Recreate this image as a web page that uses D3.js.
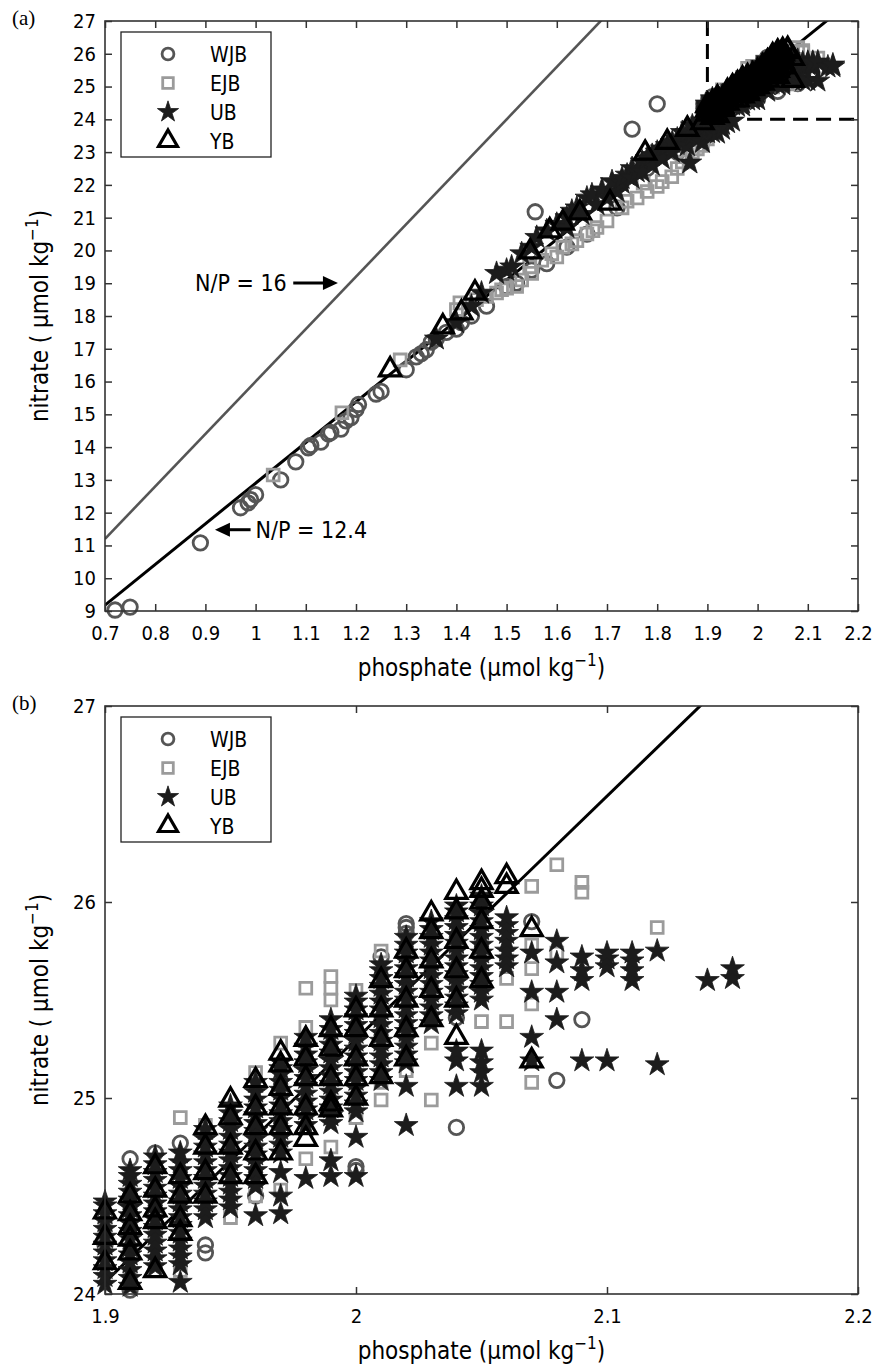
<!DOCTYPE html>
<html>
<head>
<meta charset="utf-8">
<script src="https://cdn.jsdelivr.net/npm/d3@7"></script>
<style>
body{margin:0;background:#fff;}
svg text{font-family:'Liberation Sans Narrow','DejaVu Sans Condensed','Open Sans',sans-serif;fill:#000;}
</style>
</head>
<body>
<svg id="fig" width="873" height="1367"></svg>
<script>
// series in plot order
const seriesNames=["WJB","EJB","UB","YB"];

// scattered points [phosphate, nitrate]
const wjbLow=[[0.72,9.03],[0.75,9.12],[0.89,11.08],[0.97,12.15],[0.985,12.3],[0.99,12.4],[1.0,12.55],[1.05,13.0],[1.08,13.55],
  [1.105,13.98],[1.11,14.05],[1.13,14.15],[1.145,14.4],[1.15,14.45],[1.17,14.55],[1.18,14.8],[1.19,14.9],[1.2,15.15],[1.205,15.3],
  [1.24,15.62],[1.25,15.7],[1.3,16.36],[1.32,16.75],[1.33,16.85],[1.34,16.97],[1.35,17.2],[1.36,17.3],[1.38,17.5],[1.4,17.6],
  [1.41,17.8],[1.43,18.0],[1.46,18.3],[1.5,18.9],[1.52,19.0],[1.55,19.4],[1.557,21.18],[1.58,19.6],[1.62,20.1],[1.66,20.5],
  [1.72,21.3],[1.75,23.7],[1.78,22.5],[1.8,24.47],[1.84,23.0],[1.86,23.5]];
const ejbLow=[[1.035,13.15],[1.172,15.05],[1.288,16.66],[1.4,18.2],[1.407,18.4],[1.44,18.5],[1.46,18.6],[1.48,18.7],[1.49,18.8],
  [1.5,18.85],[1.52,18.9],[1.53,19.1],[1.546,19.5],[1.55,19.3],[1.57,19.7],[1.59,19.9],[1.6,19.8],[1.612,20.1],[1.63,20.2],
  [1.64,20.3],[1.66,20.5],[1.672,20.6],[1.68,20.7],[1.7,20.9],[1.73,21.3],[1.74,21.5],[1.76,21.6],[1.772,22.05],[1.78,21.8],
  [1.8,21.95],[1.81,22.1],[1.829,22.25],[1.84,22.5],[1.85,22.7],[1.86,22.9],[1.87,23.0],[1.88,23.1],[1.89,23.2],[1.9,23.4],[1.9,23.6]];
const ubLow=[[1.36,17.3],[1.4,17.8],[1.43,18.3],[1.45,18.7],[1.48,19.3],[1.5,19.4],[1.51,19.5],[1.53,19.9],[1.55,20.1],[1.56,20.4],
  [1.58,20.6],[1.6,20.8],[1.62,21.0],[1.62,20.7],[1.63,21.2],[1.64,21.3],[1.65,21.1],[1.66,21.6],[1.67,21.7],[1.68,21.4],
  [1.69,21.85],[1.7,21.6],[1.71,22.1],[1.72,21.8],[1.73,22.05],[1.73,22.2],[1.74,22.3],[1.75,22.5],[1.75,22.2],[1.76,22.4],
  [1.77,22.7],[1.77,22.4],[1.78,22.8],[1.79,22.6],[1.79,22.9],[1.8,23.0],[1.81,23.1],[1.81,22.8],[1.82,23.2],[1.83,23.0],
  [1.83,23.3],[1.84,23.4],[1.85,23.3],[1.85,23.6],[1.86,23.6],[1.86,23.2],[1.865,22.67],[1.87,23.5],[1.87,23.8],[1.88,23.8],
  [1.88,23.4],[1.88,23.6],[1.89,23.7],[1.89,23.3],[1.89,23.95],[1.9,23.6],[1.9,23.85],[1.91,23.8],[1.91,23.6],[1.92,23.58],
  [1.92,23.9],[1.93,23.85],[1.93,23.7],[1.94,23.9],[1.95,23.95]];
const ybLow=[[1.268,16.36],[1.373,17.67],[1.41,18.1],[1.437,18.7],[1.547,19.96],[1.586,20.6],[1.612,20.84],[1.646,21.15],
  [1.706,21.45],[1.776,22.97],[1.82,23.3],[1.86,23.7],[1.89,23.9]];

// columns at 0.01 phosphate steps: [phosphate, nitrate...]
const wjbCols=[[1.90,24.25],[1.91,24.02,24.69],[1.92,24.72],[1.93,24.77],[1.94,24.21,24.25],[1.96,24.5],[2.00,24.63,24.65],
  [2.01,25.72],[2.02,25.84,25.87,25.89],[2.04,24.85,25.41],[2.07,25.9],[2.08,25.09],[2.09,25.4]];
const ejbCols=[[1.90,24.25,24.35],[1.91,24.1,24.45],[1.92,24.3],[1.93,24.12,24.9],[1.94,24.86],[1.95,24.39],[1.96,24.5,25.13],
  [1.97,24.53,25.28],[1.98,24.69,25.36,25.56],[1.99,24.75,25.5,25.56,25.62],[2.00,24.9,25.55],[2.01,24.99,25.08,25.75],
  [2.02,25.14,25.3],[2.03,24.99,25.28],[2.04,25.6,25.75],[2.05,25.39,25.8],[2.06,25.39,25.61,25.7],
  [2.07,25.08,25.48,25.66,25.78,26.08],[2.08,25.74,26.19],[2.09,26.05,26.1],[2.12,25.87]];
const ubCols=[
  [1.90,24.05,24.09,24.13,24.17,24.21,24.25,24.29,24.33,24.37,24.41,24.45,24.47],
  [1.91,24.04,24.08,24.12,24.16,24.2,24.24,24.28,24.32,24.36,24.4,24.44,24.48,24.52,24.56,24.6,24.63],
  [1.92,24.14,24.18,24.22,24.26,24.3,24.34,24.38,24.42,24.46,24.5,24.54,24.58,24.62,24.66,24.7],
  [1.93,24.06,24.15,24.19,24.23,24.27,24.31,24.35,24.39,24.43,24.47,24.51,24.55,24.59,24.63,24.67,24.72],
  [1.94,24.39,24.43,24.47,24.51,24.55,24.59,24.63,24.67,24.71,24.75,24.79,24.84],
  [1.95,24.44,24.48,24.52,24.56,24.6,24.64,24.68,24.72,24.76,24.8,24.84,24.88,24.92,24.96],
  [1.96,24.4,24.55,24.59,24.63,24.67,24.71,24.75,24.79,24.83,24.87,24.91,24.95,24.99,25.03,25.08],
  [1.97,24.41,24.5,24.62,24.72,24.76,24.8,24.84,24.88,24.92,24.96,25.0,25.04,25.08,25.12,25.15,25.18],
  [1.98,24.59,24.86,24.9,24.94,24.98,25.02,25.06,25.1,25.14,25.18,25.22,25.26,25.31],
  [1.99,24.6,24.68,24.87,24.91,24.95,24.99,25.03,25.07,25.11,25.15,25.19,25.23,25.27,25.31,25.35,25.4],
  [2.00,24.6,24.8,24.93,24.97,25.01,25.05,25.09,25.13,25.17,25.21,25.25,25.29,25.33,25.37,25.41,25.45,25.49,25.52],
  [2.01,25.09,25.13,25.17,25.21,25.25,25.29,25.33,25.37,25.41,25.45,25.49,25.53,25.57,25.61,25.65,25.68],
  [2.02,24.86,25.06,25.18,25.22,25.26,25.3,25.34,25.38,25.42,25.46,25.5,25.54,25.58,25.62,25.66,25.7,25.74,25.78,25.82],
  [2.03,25.38,25.42,25.46,25.5,25.54,25.58,25.62,25.66,25.7,25.74,25.78,25.82,25.86,25.9],
  [2.04,25.06,25.19,25.24,25.43,25.47,25.51,25.55,25.59,25.63,25.67,25.71,25.75,25.79,25.83,25.87,25.91,25.95,25.98],
  [2.05,25.06,25.13,25.18,25.24,25.5,25.54,25.58,25.62,25.66,25.7,25.74,25.78,25.82,25.86,25.9,25.94,25.98,26.03],
  [2.06,25.67,25.71,25.75,25.8,25.84,25.88,25.92],
  [2.07,25.19,25.31,25.54,25.74],
  [2.08,25.4,25.54,25.69,25.8],
  [2.09,25.19,25.6,25.65,25.72],
  [2.10,25.19,25.67,25.71,25.74],
  [2.11,25.6,25.65,25.7,25.74],
  [2.12,25.17,25.75],
  [2.14,25.6],
  [2.15,25.61,25.66]];
const ybCols=[[1.90,24.16,24.29,24.42],[1.91,24.06,24.21,24.28,24.34,24.41,24.5],[1.92,24.12,24.37,24.43,24.53,24.65],
  [1.93,24.31,24.38,24.5,24.6],[1.94,24.5,24.62,24.75,24.85],[1.95,24.6,24.75,24.9,24.99],[1.96,24.6,24.72,24.85,24.95,25.09],
  [1.97,24.72,24.85,24.95,25.05,25.17,25.23],[1.98,24.79,24.85,24.95,25.1,25.2,25.3],[1.99,24.94,24.97,25.1,25.25,25.35],
  [2.00,25.0,25.1,25.2,25.35,25.45],[2.01,25.11,25.3,25.45,25.6],[2.02,25.2,25.35,25.5,25.65,25.75],
  [2.03,25.4,25.55,25.7,25.85,25.94],[2.04,25.31,25.5,25.65,25.8,25.95,26.05],[2.05,25.6,25.75,25.9,26.0,26.06,26.1],
  [2.06,26.08,26.13],[2.07,25.19,25.86]];

// axis ticks
const xTicksA=[0.7,0.8,0.9,1,1.1,1.2,1.3,1.4,1.5,1.6,1.7,1.8,1.9,2,2.1,2.2];
const xLabelsA=["0.7","0.8","0.9","1","1.1","1.2","1.3","1.4","1.5","1.6","1.7","1.8","1.9","2","2.1","2.2"];
const yTicksA=[9,10,11,12,13,14,15,16,17,18,19,20,21,22,23,24,25,26,27];
const xTicksB=[1.9,2,2.1,2.2];
const xLabelsB=["1.9","2","2.1","2.2"];
const yTicksB=[24,25,26,27];

// reference lines N = slope*P + icpt
const refLines=[{label:"N/P = 16",slope:16,icpt:0,color:"#555",width:2.6},
                {label:"N/P = 12.4",slope:12.4,icpt:0.5,color:"#000",width:3}];
const zoomBox=[1.9,2.2,24,27];

const svg=d3.select("#fig");

function flatten(low,cols){
  let out=low.map(d=>({p:d[0],n:d[1]}));
  cols.forEach(c=>{c.slice(1).forEach(n=>out.push({p:c[0],n:n}))});
  return out;
}
const seriesData={
  WJB:flatten(wjbLow,wjbCols),
  EJB:flatten(ejbLow,ejbCols),
  UB:flatten(ubLow,ubCols),
  YB:flatten(ybLow,ybCols)
};
const styles={
  WJB:{type:d3.symbolCircle,size:165,fill:"none",stroke:"#555",sw:2.8},
  EJB:{type:d3.symbolSquare,size:140,fill:"none",stroke:"#9b9b9b",sw:2.8},
  UB:{type:d3.symbolStar,size:175,fill:"#1c1c1c",stroke:"#1c1c1c",sw:0.8},
  YB:{type:d3.symbolTriangle,size:195,fill:"none",stroke:"#000",sw:3.2}
};

function drawPanel(cfg){
  const x=d3.scaleLinear().domain(cfg.xDom).range([cfg.left,cfg.right]);
  const y=d3.scaleLinear().domain(cfg.yDom).range([cfg.bottom,cfg.top]);
  const g=svg.append("g");

  g.append("clipPath").attr("id","clip"+cfg.id)
    .append("rect").attr("x",cfg.left).attr("y",cfg.top)
    .attr("width",cfg.right-cfg.left).attr("height",cfg.bottom-cfg.top);

  if(cfg.showZoomBox){
    g.append("path")
      .attr("d",d3.line()([[x(zoomBox[0]),y(zoomBox[3])],[x(zoomBox[0]),y(zoomBox[2])],[x(zoomBox[1]),y(zoomBox[2])]]))
      .attr("fill","none").attr("stroke","#000").attr("stroke-width",3)
      .attr("stroke-dasharray","15,8");
  }

  // reference lines
  cfg.lines.forEach(l=>{
    g.append("line")
      .attr("clip-path","url(#clip"+cfg.id+")")
      .attr("x1",x(cfg.xDom[0])).attr("y1",y(l.slope*cfg.xDom[0]+l.icpt))
      .attr("x2",x(cfg.xDom[1])).attr("y2",y(l.slope*cfg.xDom[1]+l.icpt))
      .attr("stroke",l.color).attr("stroke-width",l.width);
  });

  // markers, only those inside the axes limits
  seriesNames.forEach(name=>{
    const st=styles[name];
    const pts=seriesData[name].filter(d=>d.p>=cfg.xDom[0]-1e-9&&d.p<=cfg.xDom[1]+1e-9&&d.n>=cfg.yDom[0]&&d.n<=cfg.yDom[1]);
    g.append("g").selectAll("path")
      .data(pts)
      .enter()
      .append("path")
      .attr("d",d3.symbol().type(st.type).size(st.size))
      .attr("transform",d=>"translate("+x(d.p)+","+y(d.n)+")")
      .attr("fill",st.fill)
      .attr("stroke",st.stroke)
      .attr("stroke-width",st.sw);
  });

  // axes, ticks inward on all four sides
  const fmt=d=>cfg.xLabels[cfg.xTicks.findIndex(t=>Math.abs(t-d)<1e-9)];
  const bottom=g.append("g").attr("transform","translate(0,"+cfg.bottom+")")
    .call(d3.axisBottom(x).tickValues(cfg.xTicks).tickFormat(fmt).tickSizeInner(-7).tickSizeOuter(0).tickPadding(15));
  const top=g.append("g").attr("transform","translate(0,"+cfg.top+")")
    .call(d3.axisTop(x).tickValues(cfg.xTicks).tickFormat("").tickSizeInner(-7).tickSizeOuter(0));
  const left=g.append("g").attr("transform","translate("+cfg.left+",0)")
    .call(d3.axisLeft(y).tickValues(cfg.yTicks).tickFormat(d3.format("d")).tickSizeInner(-7).tickSizeOuter(0).tickPadding(9));
  const right=g.append("g").attr("transform","translate("+cfg.right+",0)")
    .call(d3.axisRight(y).tickValues(cfg.yTicks).tickFormat("").tickSizeInner(-7).tickSizeOuter(0));
  [bottom,top,left,right].forEach(a=>{
    a.select(".domain").remove();
    a.selectAll("line").attr("stroke","#333").attr("stroke-width",1.5);
    a.selectAll("text").attr("font-size",20).attr("font-family",null);
  });
  g.append("rect").attr("x",cfg.left).attr("y",cfg.top)
    .attr("width",cfg.right-cfg.left).attr("height",cfg.bottom-cfg.top)
    .attr("fill","none").attr("stroke","#333").attr("stroke-width",1.6);

  // legend
  const lg=g.append("g").attr("transform","translate("+(cfg.left+16)+","+(cfg.top+11)+")");
  lg.append("rect").attr("width",150).attr("height",125).attr("fill","#fff").attr("stroke","#222").attr("stroke-width",1.3);
  seriesNames.forEach((name,i)=>{
    const st=styles[name];
    lg.append("path")
      .attr("d",d3.symbol().type(st.type).size(name=="WJB"?110:st.size*0.8))
      .attr("transform","translate(47,"+(22+i*29)+")")
      .attr("fill",st.fill).attr("stroke",st.stroke).attr("stroke-width",st.sw);
    lg.append("text").attr("x",89).attr("y",22+i*29).attr("dy","0.36em")
      .attr("font-size",21).text(name);
  });

  // axis titles
  const xt=g.append("text").attr("x",(cfg.left+cfg.right)/2).attr("y",cfg.bottom+65)
    .attr("text-anchor","middle").attr("font-size",24);
  xt.append("tspan").text("phosphate (\u03bcmol kg");
  xt.append("tspan").attr("dy",-10).attr("font-size",17).text("\u22121");
  xt.append("tspan").attr("dy",10).text(")");

  const yt=g.append("text")
    .attr("transform","translate(48,"+(cfg.top+cfg.bottom)/2+") rotate(-90)")
    .attr("text-anchor","middle").attr("font-size",24);
  yt.append("tspan").text("nitrate ( \u03bcmol kg");
  yt.append("tspan").attr("dy",-10).attr("font-size",17).text("\u22121");
  yt.append("tspan").attr("dy",10).text(")");

  g.append("text").attr("x",12).attr("y",cfg.top+4)
    .style("font-family","'Liberation Serif','DejaVu Serif',serif")
    .attr("font-size",21).text(cfg.tag);

  return {x:x,y:y,g:g};
}

function arrow(g,x1,y1,x2,y2){
  const dir=Math.sign(x2-x1);
  g.append("line").attr("x1",x1).attr("y1",y1).attr("x2",x2-dir*10).attr("y2",y2)
    .attr("stroke","#000").attr("stroke-width",3);
  g.append("path")
    .attr("d","M"+x2+","+y2+"L"+(x2-dir*15)+","+(y2-7)+"L"+(x2-dir*15)+","+(y2+7)+"Z")
    .attr("fill","#000");
}

const pa=drawPanel({id:"a",tag:"(a)",left:105,right:858,top:21,bottom:611,xDom:[0.7,2.2],yDom:[9,27],
  xTicks:xTicksA,xLabels:xLabelsA,yTicks:yTicksA,lines:refLines,showZoomBox:true});
const pb=drawPanel({id:"b",tag:"(b)",left:105,right:858,top:706,bottom:1294,xDom:[1.9,2.2],yDom:[24,27],
  xTicks:xTicksB,xLabels:xLabelsB,yTicks:yTicksB,lines:[refLines[1]],showZoomBox:false});

// annotations in panel (a), placed in data units
const ann16={tipP:1.164,tailP:1.075,textP:1.062,n:19.01};
const ann124={tipP:0.919,tailP:0.99,textP:1.0,n:11.48};
arrow(pa.g,pa.x(ann16.tailP),pa.y(ann16.n),pa.x(ann16.tipP),pa.y(ann16.n));
pa.g.append("text").attr("x",pa.x(ann16.textP)).attr("y",pa.y(ann16.n)).attr("dy","0.36em")
  .attr("text-anchor","end").attr("font-size",23).text(refLines[0].label);
arrow(pa.g,pa.x(ann124.tailP),pa.y(ann124.n),pa.x(ann124.tipP),pa.y(ann124.n));
pa.g.append("text").attr("x",pa.x(ann124.textP)).attr("y",pa.y(ann124.n)).attr("dy","0.36em")
  .attr("font-size",23).text(refLines[1].label);
</script>
</body>
</html>
